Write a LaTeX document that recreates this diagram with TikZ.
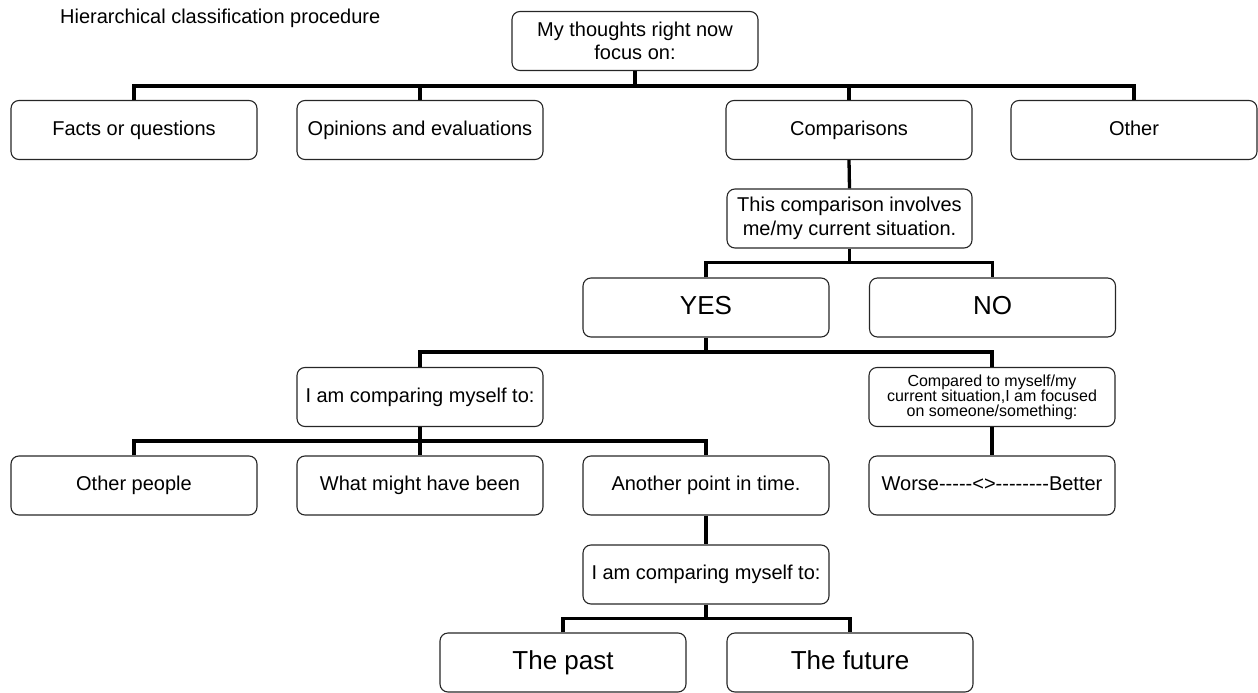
\documentclass[tikz,border=0pt]{standalone}
\usepackage{fontspec}
\setmainfont{Liberation Sans}
\begin{document}
\begin{tikzpicture}[x=1pt,y=-1pt,
  box/.style={draw=black!85, line width=1.1pt, rounded corners=8pt,
    minimum width=246pt, minimum height=59pt, inner sep=2pt, align=center,
    font=\fontsize{20}{23.5}\selectfont},
  one/.style={text height=14.5pt, text depth=4.3pt},
  big/.style={font=\fontsize{26}{30}\selectfont, text height=19pt, text depth=5.5pt},
  small/.style={font=\fontsize{16}{15}\selectfont},
  conn/.style={line width=3.3pt, black}]
\useasboundingbox (0,0) rectangle (1258,693);

\node[anchor=base west, inner sep=0, font=\fontsize{20}{24}\selectfont] (title) at (60,24) {Hierarchical classification procedure};

\node[box] (top) at (635,41) {My thoughts right now\\focus on:};

\node[box, one] (facts) at (134,130) {Facts or questions};
\node[box, one] (opinions) at (420,130) {Opinions and evaluations};
\node[box, one] (comparisons) at (849,130) {Comparisons};
\node[box, one] (other) at (1134,130) {Other};

\node[box, minimum width=245pt] (thiscomp) at (849.5,218.5) {This comparison involves\\me/my current situation.};

\node[box, big] (yes) at (706,307.5) {YES};
\node[box, big] (no) at (992.5,307.5) {NO};

\node[box, one] (comp1) at (420,397) {I am comparing myself to:};
\node[box, small] (compared) at (992,397) {Compared to myself/my\\current situation,I am focused\\on someone/something:};

\node[box, one] (otherpeople) at (134,485.5) {Other people};
\node[box, one] (whatmight) at (420,485.5) {What might have been};
\node[box, one] (another) at (706,485.5) {Another point in time.};
\node[box, one] (worse) at (992,485.5) {Worse-{}-{}-{}-{}-<>-{}-{}-{}-{}-{}-{}-{}-Better};

\node[box, one] (comp2) at (706,574.5) {I am comparing myself to:};

\node[box, big] (past) at (563,662.5) {The past};
\node[box, big] (future) at (850,662.5) {The future};

% connectors
\draw[conn] (top.south) -- ++(0,15);
\draw[conn] (facts.north) -- ++(0,-14) -| (other.north);
\draw[conn] (opinions.north) -- ++(0,-14);
\draw[conn] (comparisons.north) -- ++(0,-14);

\draw[conn] (comparisons.south) -- (thiscomp.north);

\draw[conn] (thiscomp.south) -- ++(0,15);
\draw[conn] (yes.north) -- ++(0,-15) -| (no.north);

\draw[conn] (yes.south) -- ++(0,15);
\draw[conn] (comp1.north) -- ++(0,-15) -| (compared.north);

\draw[conn] (comp1.south) -- ++(0,14.5);
\draw[conn] (otherpeople.north) -- ++(0,-14.5) -| (another.north);
\draw[conn] (whatmight.north) -- ++(0,-14.5);

\draw[conn] (compared.south) -- (worse.north);

\draw[conn] (another.south) -- (comp2.north);

\draw[conn] (comp2.south) -- ++(0,14);
\draw[conn] (past.north) -- ++(0,-14) -| (future.north);
\end{tikzpicture}
\end{document}
